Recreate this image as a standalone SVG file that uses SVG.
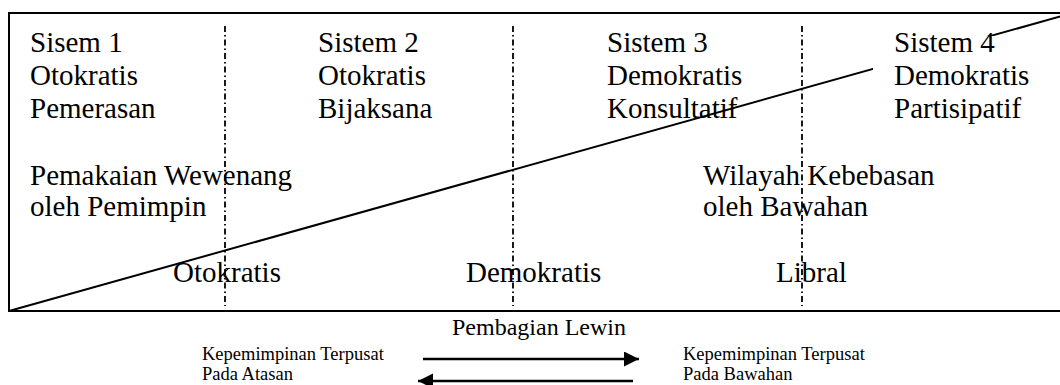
<svg xmlns="http://www.w3.org/2000/svg" width="1060" height="385" viewBox="0 0 1060 385">
  <defs>
    <style>
      .t { font-family: "Liberation Serif", "Times New Roman", serif; font-size: 29px; fill: #000; }
      .s { font-family: "Liberation Serif", "Times New Roman", serif; font-size: 18.5px; fill: #000; }
      .m { font-family: "Liberation Serif", "Times New Roman", serif; font-size: 24px; fill: #000; }
      .frame { fill: none; stroke: #000; stroke-width: 2; }
      .diag { fill: none; stroke: #000; stroke-width: 2; }
      .divider { fill: none; stroke: #000; stroke-width: 1.8; stroke-dasharray: 6 3 1.5 3; }
      .arrow { fill: none; stroke: #000; stroke-width: 2.5; }
    </style>
    <marker id="head" markerUnits="userSpaceOnUse" markerWidth="16" markerHeight="16" refX="15" refY="7.5" orient="auto">
      <path d="M0,0 L15,7.5 L0,15 z" fill="#000"/>
    </marker>
  </defs>

  <!-- outer frame, open on the right -->
  <path class="frame" d="M1062,13 H9 V311 H1062"/>

  <!-- rising diagonal: authority of leader vs. freedom of subordinates -->
  <g id="connectors">
    <line class="diag" x1="9" y1="311" x2="1062" y2="16"/>
  </g>

  <!-- system columns -->
  <g id="sistem1">
    <text class="t" x="30" y="52">Sisem 1</text>
    <text class="t" x="30" y="85">Otokratis</text>
    <text class="t" x="30" y="118">Pemerasan</text>
  </g>
  <g id="sistem2">
    <text class="t" x="318" y="52">Sistem 2</text>
    <text class="t" x="318" y="85">Otokratis</text>
    <text class="t" x="318" y="118">Bijaksana</text>
  </g>
  <g id="sistem3">
    <text class="t" x="607" y="52">Sistem 3</text>
    <text class="t" x="607" y="85">Demokratis</text>
    <text class="t" x="607" y="118">Konsultatif</text>
  </g>
  <g id="sistem4">
    <!-- white text box hides the diagonal behind it -->
    <rect x="873" y="36" width="170" height="92" fill="#fff"/>
    <text class="t" x="894" y="52">Sistem 4</text>
    <text class="t" x="894" y="85">Demokratis</text>
    <text class="t" x="894" y="118">Partisipatif</text>
  </g>

  <g id="wewenang">
    <text class="t" x="30" y="185">Pemakaian Wewenang</text>
    <text class="t" x="30" y="216">oleh Pemimpin</text>
  </g>
  <g id="kebebasan">
    <text class="t" x="703" y="185">Wilayah Kebebasan</text>
    <text class="t" x="703" y="216">oleh Bawahan</text>
  </g>

  <g id="lewin-otokratis"><text class="t" x="173" y="282">Otokratis</text></g>
  <g id="lewin-demokratis"><text class="t" x="466" y="282">Demokratis</text></g>
  <g id="lewin-libral"><text class="t" x="776" y="282">Libral</text></g>

  <!-- dash-dot column dividers -->
  <g id="dividers">
    <line class="divider" x1="225" y1="26" x2="225" y2="306"/>
    <line class="divider" x1="513" y1="26" x2="513" y2="306"/>
    <line class="divider" x1="802" y1="26" x2="802" y2="306"/>
  </g>

  <g id="pembagian-lewin"><text class="m" x="452" y="335">Pembagian Lewin</text></g>

  <g id="terpusat-atasan">
    <text class="s" x="202" y="360">Kepemimpinan Terpusat</text>
    <text class="s" x="202" y="380">Pada Atasan</text>
  </g>
  <g id="terpusat-bawahan">
    <text class="s" x="683" y="360">Kepemimpinan Terpusat</text>
    <text class="s" x="683" y="380">Pada Bawahan</text>
  </g>

  <g id="arrows">
    <line class="arrow" x1="423" y1="359" x2="639" y2="359" marker-end="url(#head)"/>
    <line class="arrow" x1="633" y1="381" x2="418" y2="381" marker-end="url(#head)"/>
  </g>
</svg>
